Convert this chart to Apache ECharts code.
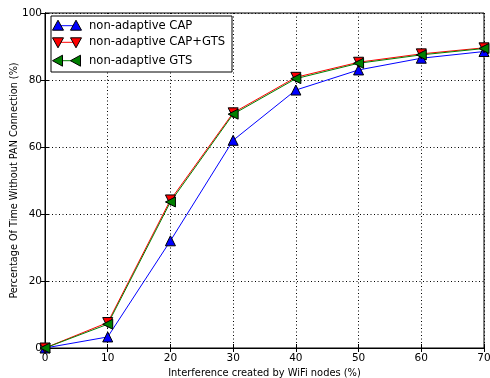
<!DOCTYPE html>
<html>
<head>
<meta charset="utf-8">
<script src="https://cdn.jsdelivr.net/npm/echarts@6/dist/echarts.min.js"></script>
<style>
  html, body { margin: 0; padding: 0; background: #fff; }
  #chart { width: 490px; height: 378px; }
</style>
</head>
<body>
<div id="chart"></div>
<script>
// x values: interference (%)
const interference = [0, 10, 20, 30, 40, 50, 60, 70];
// y values: percentage of time without PAN connection
const capValues = [0, 3.3, 32, 62, 77, 83, 86.5, 88.5];
const capGtsValues = [0, 7.6, 44.2, 70.2, 80.8, 85.3, 87.8, 89.6];
const gtsValues = [0, 7.1, 43.6, 69.8, 80.4, 85.0, 87.5, 89.4];
const seriesNames = ['non-adaptive CAP', 'non-adaptive CAP+GTS', 'non-adaptive GTS'];

const font = 'DejaVu Sans';
const chart = echarts.init(document.getElementById('chart'));

function pairs(ys) {
    return interference.map((x, i) => [x, ys[i]]);
}

// 图例：线段加两个标记
function legendItem(y, color, rotate, label) {
    const tri = (cx) => ({
        type: 'polygon',
        shape: { points: [[0, -5.5], [5.5, 4.5], [-5.5, 4.5]] },
        x: cx, y: y, rotation: rotate * Math.PI / 180,
        style: { fill: color, stroke: '#000', lineWidth: 1 }
    });
    return [
        { type: 'line', shape: { x1: 58, y1: y, x2: 76, y2: y }, style: { stroke: color, lineWidth: 1 } },
        tri(58), tri(76),
        { type: 'text', x: 89, y: y, style: { text: label, font: '11.6px ' + font, fill: '#000', textVerticalAlign: 'middle' } }
    ];
}

const splitStyle = { show: true, lineStyle: { color: '#000', type: [1, 2.5], width: 1 } };
const tickIn = { show: true, inside: true, length: 4, lineStyle: { color: '#000' } };

const option = {
    animation: false,
    backgroundColor: '#fff',
    grid: {
        left: 45, right: 6, top: 13, bottom: 30,
        outerBoundsMode: 'none', containLabel: false,
        show: true, borderColor: '#000', borderWidth: 1
    },
    xAxis: [{
        type: 'value', min: 0, max: 70, interval: 10,
        name: 'Interference created by WiFi nodes (%)',
        nameLocation: 'middle', nameGap: 18,
        nameTextStyle: { fontFamily: font, fontSize: 9.9, color: '#000' },
        axisLine: { lineStyle: { color: '#000' } },
        axisTick: tickIn,
        axisLabel: { fontFamily: font, fontSize: 10.5, color: '#000', margin: 5 },
        splitLine: splitStyle
    }, {
        type: 'value', min: 0, max: 70, interval: 10, position: 'top',
        axisLine: { lineStyle: { color: '#000' } },
        axisTick: tickIn, axisLabel: { show: false }, splitLine: { show: false }
    }],
    yAxis: [{
        type: 'value', min: 0, max: 100, interval: 20,
        name: 'Percentage Of Time Without PAN Connection (%)',
        nameLocation: 'middle', nameGap: 26, nameMoveOverlap: false,
        nameTextStyle: { fontFamily: font, fontSize: 9.7, color: '#000' },
        axisLine: { lineStyle: { color: '#000' } },
        axisTick: tickIn,
        axisLabel: { fontFamily: font, fontSize: 10.5, color: '#000', margin: 3 },
        splitLine: splitStyle
    }, {
        type: 'value', min: 0, max: 100, interval: 20, position: 'right',
        axisLine: { show: true, lineStyle: { color: '#000' } },
        axisTick: tickIn, axisLabel: { show: false }, splitLine: { show: false }
    }],
    series: [{
        name: seriesNames[0], type: 'line', data: pairs(capValues),
        symbol: 'triangle', symbolSize: 10, symbolRotate: 0, showAllSymbol: true,
        lineStyle: { color: '#0000ff', width: 1 },
        itemStyle: { color: '#0000ff', borderColor: '#000', borderWidth: 1 }
    }, {
        name: seriesNames[1], type: 'line', data: pairs(capGtsValues),
        symbol: 'triangle', symbolSize: 10, symbolRotate: 180,
        lineStyle: { color: '#ff0000', width: 1 },
        itemStyle: { color: '#ff0000', borderColor: '#000', borderWidth: 1 }
    }, {
        name: seriesNames[2], type: 'line', data: pairs(gtsValues),
        symbol: 'triangle', symbolSize: 10, symbolRotate: 90,
        lineStyle: { color: '#008000', width: 1 },
        itemStyle: { color: '#008000', borderColor: '#000', borderWidth: 1 }
    }],
    graphic: [
        { type: 'rect', shape: { x: 51, y: 16, width: 181, height: 56 }, style: { fill: '#fff', stroke: '#000', lineWidth: 1 }, z: 100 },
        ...legendItem(25.7, '#0000ff', 0, seriesNames[0]).map(e => Object.assign(e, { z: 101 })),
        ...legendItem(42.3, '#ff0000', 180, seriesNames[1]).map(e => Object.assign(e, { z: 101 })),
        ...legendItem(60.7, '#008000', 90, seriesNames[2]).map(e => Object.assign(e, { z: 101 }))
    ]
};

chart.setOption(option);
</script>
</body>
</html>
